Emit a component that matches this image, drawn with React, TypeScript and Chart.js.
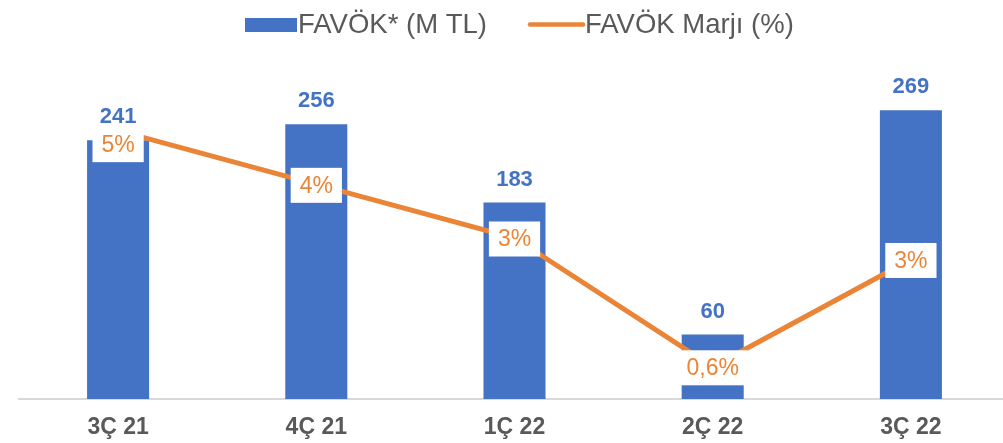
import React, { useEffect, useRef } from "react";
import { Chart, registerables } from "chart.js";

Chart.register(...registerables);

const categories = ["3Ç 21", "4Ç 21", "1Ç 22", "2Ç 22", "3Ç 22"];
const favokValues = [241, 256, 183, 60, 269];
const marginValues = [5.0, 4.0, 3.0, 0.6, 2.6];
const marginLabels = ["5%", "4%", "3%", "0,6%", "3%"];
const barLegend = "FAVÖK* (M TL)";
const lineLegend = "FAVÖK Marjı (%)";

const BLUE = "#4472C4";
const ORANGE = "#EA8537";
const GRAY = "#595959";
const FONT = "Arial, 'Liberation Sans', Helvetica, sans-serif";

const labelPlugin = {
  id: "customLabels",
  afterDatasetsDraw(chart: any) {
    const ctx = chart.ctx;
    ctx.save();
    const barMeta = chart.getDatasetMeta(0);
    ctx.font = `bold 22px ${FONT}`;
    ctx.fillStyle = BLUE;
    ctx.textAlign = "center";
    ctx.textBaseline = "alphabetic";
    barMeta.data.forEach((el: any, i: number) => {
      ctx.fillText(String(favokValues[i]), el.x, el.y - 17);
    });
    const lineMeta = chart.getDatasetMeta(1);
    ctx.font = `23px ${FONT}`;
    lineMeta.data.forEach((el: any, i: number) => {
      const text = marginLabels[i];
      const w = ctx.measureText(text).width + 18;
      const h = 35;
      const cy = el.y + (i === 0 ? 14 : 1);
      ctx.fillStyle = "#FFFFFF";
      ctx.fillRect(el.x - w / 2, cy - h / 2, w, h);
      ctx.fillStyle = ORANGE;
      ctx.textBaseline = "middle";
      ctx.fillText(text, el.x, cy + 1);
    });
    ctx.restore();
  },
};

const legendPlugin = {
  id: "customLegend",
  afterDraw(chart: any) {
    const ctx = chart.ctx;
    ctx.save();
    ctx.font = `27.5px ${FONT}`;
    ctx.textBaseline = "alphabetic";
    ctx.textAlign = "left";
    ctx.fillStyle = BLUE;
    ctx.fillRect(245, 18, 52, 14);
    ctx.fillStyle = GRAY;
    ctx.fillText(barLegend, 298, 33);
    ctx.strokeStyle = ORANGE;
    ctx.lineWidth = 4.5;
    ctx.lineCap = "round";
    ctx.beginPath();
    ctx.moveTo(530, 24.5);
    ctx.lineTo(583, 24.5);
    ctx.stroke();
    ctx.fillText(lineLegend, 585, 33);
    ctx.restore();
  },
};

export default function App() {
  const canvasRef = useRef<HTMLCanvasElement | null>(null);

  useEffect(() => {
    document.body.style.margin = "0";
    document.body.style.overflow = "hidden";
    const canvas = canvasRef.current;
    if (!canvas) return;
    const chart = new Chart(canvas, {
      type: "bar",
      data: {
        labels: categories,
        datasets: [
          {
            type: "bar",
            label: barLegend,
            data: favokValues,
            backgroundColor: BLUE,
            borderWidth: 0,
            barPercentage: 0.313,
            categoryPercentage: 1,
            yAxisID: "y",
            order: 1,
          },
          {
            type: "line",
            label: lineLegend,
            data: marginValues,
            borderColor: ORANGE,
            borderWidth: 5,
            pointRadius: 0,
            tension: 0,
            yAxisID: "y1",
            order: 0,
          } as any,
        ],
      },
      options: {
        responsive: false,
        animation: false,
        devicePixelRatio: 1,
        layout: { padding: { left: 19, right: 2, top: 77, bottom: 0 } },
        plugins: {
          legend: { display: false },
          tooltip: { enabled: false },
        },
        scales: {
          x: {
            grid: { display: false, drawTicks: false },
            border: { display: true, color: "#D9D9D9", width: 2 },
            ticks: {
              color: GRAY,
              font: { family: FONT, size: 23, weight: "bold" },
              padding: 15,
            },
            afterFit(scale: any) {
              scale.height = 44;
            },
          },
          y: { display: false, min: 0, max: 300 },
          y1: { display: false, min: 0, max: 6, position: "right" },
        },
      },
      plugins: [labelPlugin, legendPlugin],
    });
    return () => chart.destroy();
  }, []);

  return (
    <div style={{ position: "fixed", left: 0, top: 0, width: 1012, height: 443, background: "#fff" }}>
      <canvas ref={canvasRef} width={1012} height={443} style={{ display: "block" }} />
    </div>
  );
}
